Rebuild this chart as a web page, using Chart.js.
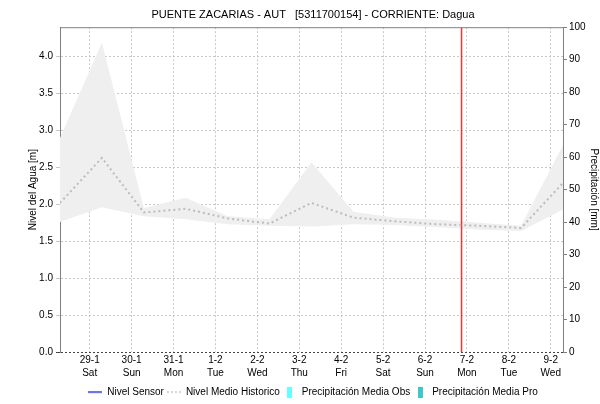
<!DOCTYPE html>
<html>
<head>
<meta charset="utf-8">
<script src="https://cdn.jsdelivr.net/npm/chart.js@4.4.1/dist/chart.umd.min.js"></script>
<style>
  html, body { margin: 0; padding: 0; background: #fff; }
  #wrap { width: 600px; height: 404px; }
</style>
</head>
<body>
<div id="wrap"><canvas id="chart"></canvas></div>
<script>
// samples taken each day at 07:00, from 28-1 to 9-2
const sampleDays = ['28-1', '29-1', '30-1', '31-1', '1-2', '2-2', '3-2', '4-2', '5-2', '6-2', '7-2', '8-2', '9-2'];
const nivelMedio = [2.02, 2.63, 1.89, 1.94, 1.81, 1.74, 2.02, 1.82, 1.77, 1.73, 1.71, 1.68, 2.29];
const nivelMax = [2.90, 4.19, 1.95, 2.09, 1.84, 1.80, 2.57, 1.90, 1.82, 1.79, 1.75, 1.71, 2.80];
const nivelMin = [1.76, 1.96, 1.84, 1.80, 1.73, 1.71, 1.70, 1.73, 1.72, 1.69, 1.66, 1.64, 1.93];
const nivelSensor = [];
const precipObs = [];
const precipPro = [];

// midnight ticks
const tickDates = ['29-1', '30-1', '31-1', '1-2', '2-2', '3-2', '4-2', '5-2', '6-2', '7-2', '8-2', '9-2'];
const tickDays = ['Sat', 'Sun', 'Mon', 'Tue', 'Wed', 'Thu', 'Fri', 'Sat', 'Sun', 'Mon', 'Tue', 'Wed'];
const tickOffset = 17 / 24;
const nowMarker = 9.58;

const FONT = 'Liberation Sans, Arial, sans-serif';
Chart.defaults.font.family = FONT;
Chart.defaults.font.size = 10;
Chart.defaults.color = '#000';

const toPoints = arr => arr.map((v, i) => ({x: i, y: v}));

function symbol(kind, color) {
  const c = document.createElement('canvas');
  const g = c.getContext('2d');
  if (kind === 'box') {
    c.width = 5; c.height = 11;
    g.fillStyle = color;
    g.fillRect(0, 0, 5, 11);
  } else {
    c.width = 14; c.height = 3;
    g.strokeStyle = color;
    g.lineWidth = 1.2;
    if (kind === 'dash') g.setLineDash([2, 2]);
    g.beginPath(); g.moveTo(0, 1.5); g.lineTo(14, 1.5); g.stroke();
  }
  return c;
}

const legendEntries = [
  {text: 'Nivel Sensor', style: symbol('line', '#0000cc')},
  {text: 'Nivel Medio Historico', style: symbol('dash', '#b8b8b8')},
  {text: 'Precipitación Media Obs', style: symbol('box', '#66ffff')},
  {text: 'Precipitación Media Pro', style: symbol('box', '#3fc6c6')},
];

const topBorder = {
  id: 'topBorder',
  afterDraw(chart) {
    const {ctx, chartArea: a} = chart;
    ctx.save();
    ctx.strokeStyle = '#808080';
    ctx.lineWidth = 1;
    ctx.beginPath();
    ctx.moveTo(a.left, a.top + 0.5);
    ctx.lineTo(a.right, a.top + 0.5);
    ctx.stroke();
    ctx.restore();
  }
};

new Chart(document.getElementById('chart'), {
  data: {
    datasets: [
      {type: 'line', label: 'Nivel Sensor', data: toPoints(nivelSensor), borderColor: '#0000cc', borderWidth: 1, pointRadius: 0, yAxisID: 'y'},
      {type: 'line', label: 'Nivel Medio Historico', data: toPoints(nivelMedio), borderColor: '#bcbcbc', borderWidth: 2, borderDash: [2, 3], pointRadius: 0, yAxisID: 'y'},
      {type: 'bar', label: 'Precipitación Media Obs', data: precipObs, backgroundColor: '#66ffff', yAxisID: 'y1'},
      {type: 'bar', label: 'Precipitación Media Pro', data: precipPro, backgroundColor: '#3fc6c6', yAxisID: 'y1'},
      {type: 'line', label: 'now', data: [{x: nowMarker, y: 0}, {x: nowMarker, y: 4.4}], borderColor: '#ff3030', borderWidth: 1.5, pointRadius: 0, yAxisID: 'y'},
      {type: 'line', label: 'max', data: toPoints(nivelMax), borderWidth: 0, borderColor: 'rgba(0,0,0,0)', backgroundColor: '#efefef', fill: '+1', pointRadius: 0, yAxisID: 'y'},
      {type: 'line', label: 'min', data: toPoints(nivelMin), borderWidth: 0, borderColor: 'rgba(0,0,0,0)', pointRadius: 0, yAxisID: 'y'},
    ]
  },
  options: {
    responsive: true,
    maintainAspectRatio: false,
    animation: false,
    devicePixelRatio: 1,
    layout: {padding: {left: 26, right: 0, top: 0, bottom: -3}},
    plugins: {
      title: {
        display: true,
        text: 'PUENTE ZACARIAS - AUT   [5311700154] - CORRIENTE: Dagua',
        color: '#000',
        font: {size: 11, weight: 'normal'},
        padding: {top: 8, bottom: 6}
      },
      legend: {
        position: 'bottom',
        labels: {
          usePointStyle: true,
          pointStyleWidth: 14,
          padding: 3,
          font: {size: 10},
          generateLabels: () => legendEntries.map((e, i) => ({
            text: e.text, pointStyle: e.style, datasetIndex: i, hidden: false,
            fillStyle: 'transparent', strokeStyle: 'transparent', lineWidth: 0, fontColor: '#000'
          }))
        }
      },
      tooltip: {enabled: false}
    },
    scales: {
      x: {
        type: 'linear', min: 0, max: 12, offset: false,
        afterBuildTicks: s => { s.ticks = tickDates.map((_, i) => ({value: tickOffset + i})); },
        ticks: {autoSkip: false, maxRotation: 0, padding: 2, font: {size: 10, lineHeight: 1.3},
          callback: (v, i) => [tickDates[i], tickDays[i]]},
        grid: {color: '#c8c8c8', drawTicks: false, offset: false},
        border: {display: false, dash: [2, 2]},
        afterFit: s => { s.height = 32; }
      },
      y: {
        position: 'left', min: 0, max: 4.4,
        afterBuildTicks: s => { s.ticks = s.ticks.filter(t => Math.abs(t.value * 2 - Math.round(t.value * 2)) < 1e-6); },
        ticks: {stepSize: 0.5, padding: 3, callback: v => v.toFixed(1)},
        grid: {color: c => (c.tick && c.tick.value === 0) ? '#444' : '#c8c8c8', tickLength: 4},
        border: {color: '#808080', dash: [2, 2]},
        title: {display: true, text: 'Nivel del Agua [m]', font: {size: 10}, padding: {top: 1, bottom: 0}},
        afterFit: s => { s.width = 34; }
      },
      y1: {
        position: 'right', min: 0, max: 100,
        ticks: {stepSize: 10, padding: 2},
        grid: {drawOnChartArea: false, tickLength: 4, color: '#808080'},
        border: {color: '#808080'},
        title: {display: true, text: 'Precipitación [mm]', font: {size: 10}, padding: 0},
        afterFit: s => { s.width = 37; }
      }
    }
  },
  plugins: [topBorder]
});
</script>
</body>
</html>
